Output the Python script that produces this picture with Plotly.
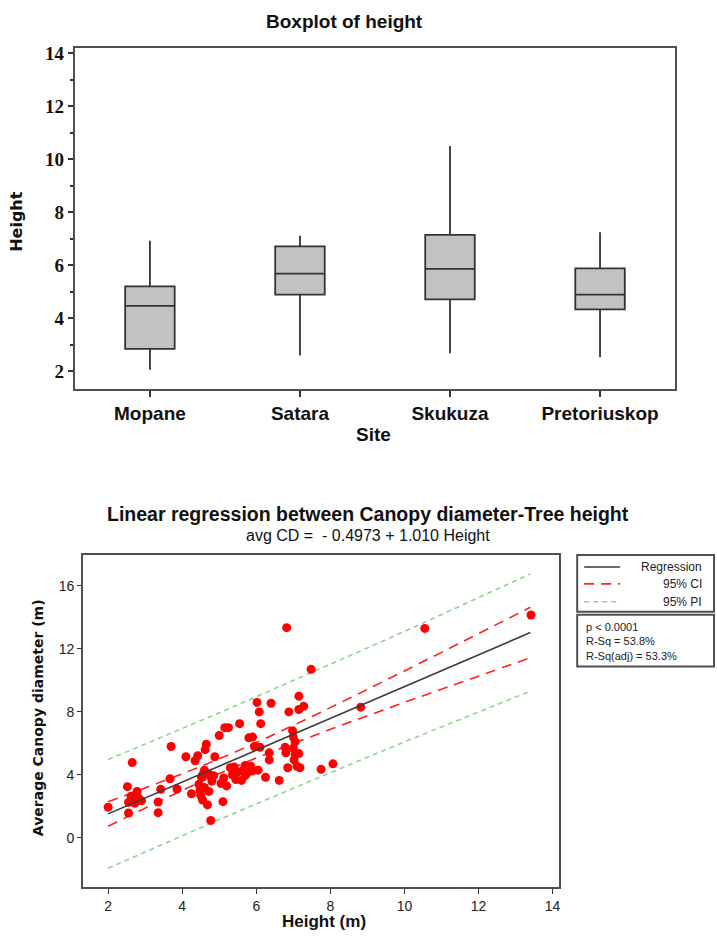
import plotly.graph_objects as go

W, H = 717, 940

# ---------------- Boxplot data ----------------
sites = ["Mopane", "Satara", "Skukuza", "Pretoriuskop"]
box_lower = [2.05, 2.59, 2.68, 2.53]
box_q1 = [2.84, 4.89, 4.71, 4.33]
box_median = [4.46, 5.68, 5.86, 4.89]
box_q3 = [5.20, 6.71, 7.14, 5.88]
box_upper = [6.92, 7.11, 10.49, 7.24]
box_yticks = [2, 4, 6, 8, 10, 12, 14]

# ---------------- Regression data ----------------
height_m = [2.00, 2.52, 2.55, 2.55, 2.65, 2.62, 2.78, 2.82, 2.90, 2.72,
            3.35, 3.35, 3.42, 3.67, 3.70, 3.86,
            4.10, 4.25, 4.35, 4.42, 4.45, 4.48, 4.52, 4.55, 4.60, 4.62,
            4.65, 4.68, 4.72, 4.72, 4.77, 4.55, 4.80, 4.88, 4.85, 4.50, 4.60,
            5.00, 5.05, 5.10, 5.12, 5.15, 5.25, 5.20, 5.30, 5.35, 5.40, 5.45,
            5.50, 5.55, 5.60, 5.65, 5.70, 5.75, 5.80, 5.85, 5.90, 5.95, 5.90, 5.70,
            6.02, 6.08, 6.12, 6.10, 6.05, 6.25, 6.35, 6.35, 6.40, 6.62, 6.78,
            6.82, 6.85, 6.88, 6.80, 6.98, 7.00, 7.05, 7.05, 7.02, 7.10, 7.15,
            7.15, 7.28, 7.15, 7.18, 7.00,
            7.48, 7.75, 8.07, 8.82, 10.55, 13.42]
canopy_m = [1.95, 3.25, 2.25, 1.58, 4.78, 2.65, 2.95, 2.55, 2.35, 2.20,
            1.60, 2.28, 3.08, 3.75, 5.80, 3.10,
            5.15, 2.80, 4.90, 5.22, 3.40, 3.00, 3.85, 2.40, 3.20, 5.60,
            5.95, 2.10, 4.05, 2.95, 1.10, 4.00, 3.60, 5.15, 3.95, 2.70, 4.30,
            6.50, 3.45, 2.30, 3.80, 7.00, 7.00, 3.30, 4.45, 4.00, 4.50, 3.70,
            4.20, 7.25, 3.65, 4.30, 4.60, 4.10, 6.35, 4.55, 6.40, 5.80, 4.25, 3.95,
            8.60, 8.00, 7.25, 5.75, 4.30, 3.85, 5.40, 4.95, 8.55, 3.65, 5.75,
            13.35, 4.45, 8.00, 5.40, 6.80, 6.40, 6.10, 5.30, 4.95, 4.55, 9.00,
            8.15, 8.35, 5.35, 4.45, 5.70,
            10.70, 4.35, 4.70, 8.30, 13.30, 14.15]

fit_x = [2.0, 13.4]
fit_y = [1.523, 13.037]

band_x = [2, 3, 4, 5, 6, 7, 8, 9, 10, 11, 12, 13.4]
ci_upper = [2.30, 3.17, 4.07, 5.02, 6.05, 7.14, 8.27, 9.43, 10.60, 11.78, 12.97, 14.64]
ci_lower = [0.74, 1.89, 3.01, 4.08, 5.07, 6.00, 6.89, 7.75, 8.60, 9.44, 10.27, 11.44]
pi_upper = [4.97, 5.95, 6.94, 7.94, 8.96, 9.98, 11.01, 12.06, 13.11, 14.17, 15.24, 16.76]
pi_lower = [-1.93, -0.89, 0.14, 1.16, 2.16, 3.16, 4.15, 5.12, 6.09, 7.05, 8.00, 9.32]

reg_xticks = [2, 4, 6, 8, 10, 12, 14]
reg_yticks = [0, 4, 8, 12, 16]

legend_labels = ["Regression", "95% CI", "95% PI"]
stats_lines = ["p < 0.0001", "R-Sq = 53.8%", "R-Sq(adj) = 53.3%"]

# ---------------- helpers ----------------
def px(x):
    return x / W

def py(y):
    return 1 - y / H

FRAME = "#505050"
RED = "#ff2020"
GREEN = "#8fd48f"
DARK = "#3a3a3a"

fig = go.Figure()

fig.add_trace(go.Box(
    x=sites, q1=box_q1, median=box_median, q3=box_q3,
    lowerfence=box_lower, upperfence=box_upper,
    fillcolor="#c2c2c2", line=dict(color="#333333", width=1.8),
    whiskerwidth=0, width=0.33, boxpoints=False,
    xaxis="x", yaxis="y", showlegend=False, hoverinfo="skip"))

# Regression panel
fig.add_trace(go.Scatter(x=band_x, y=pi_upper, mode="lines",
                         line=dict(color=GREEN, width=1.6, dash="5px,4px"),
                         xaxis="x2", yaxis="y2", showlegend=False))
fig.add_trace(go.Scatter(x=band_x, y=pi_lower, mode="lines",
                         line=dict(color=GREEN, width=1.6, dash="5px,4px"),
                         xaxis="x2", yaxis="y2", showlegend=False))
fig.add_trace(go.Scatter(x=band_x, y=ci_upper, mode="lines", line_shape="spline",
                         line=dict(color=RED, width=1.6, dash="10px,7px"),
                         xaxis="x2", yaxis="y2", showlegend=False))
fig.add_trace(go.Scatter(x=band_x, y=ci_lower, mode="lines", line_shape="spline",
                         line=dict(color=RED, width=1.6, dash="10px,7px"),
                         xaxis="x2", yaxis="y2", showlegend=False))
fig.add_trace(go.Scatter(x=height_m, y=canopy_m, mode="markers",
                         marker=dict(color="#ff0000", size=9),
                         xaxis="x2", yaxis="y2", showlegend=False))
fig.add_trace(go.Scatter(x=fit_x, y=fit_y, mode="lines",
                         line=dict(color=DARK, width=1.6),
                         xaxis="x2", yaxis="y2", showlegend=False))

axis_common = dict(showline=True, linecolor=FRAME, linewidth=2, mirror=True,
                   showgrid=False, zeroline=False, ticks="outside",
                   tickcolor="#333333")

fig.update_layout(
    width=W, height=H,
    margin=dict(l=0, r=0, t=0, b=0),
    paper_bgcolor="white", plot_bgcolor="white",
    showlegend=False,
    xaxis=dict(domain=[px(75), px(676)], anchor="y", type="category",
               range=[-0.5, 3.5], ticklen=6, tickwidth=1.5,
               tickfont=dict(family="Liberation Sans", size=19, color="#111", weight="bold"),
               **axis_common),
    yaxis=dict(domain=[py(386), py(43)], anchor="x", range=[1.33, 14.2],
               tickvals=box_yticks, ticklen=5, tickwidth=1.5,
               minor=dict(dtick=1, ticklen=3, ticks="outside", tickcolor="#333"),
               tickfont=dict(family="Liberation Serif", size=19, color="#111", weight="bold"),
               **axis_common),
    xaxis2=dict(domain=[px(83.3), px(560)], anchor="y2", range=[1.326, 14.18],
                tickvals=reg_xticks, ticklen=5, tickwidth=1.2,
                tickfont=dict(family="Liberation Sans", size=14, color="#222"),
                **axis_common),
    yaxis2=dict(domain=[py(886.7), py(553.3)], anchor="x2", range=[-3.12, 17.94],
                tickvals=reg_yticks, ticklen=4, tickwidth=1.2,
                tickfont=dict(family="Liberation Sans", size=14, color="#222"),
                **axis_common),
)

ann = []
def text(t, x, y, size, family="Liberation Sans", bold=False, angle=0,
         xanchor="center", color="#111", align="center"):
    ann.append(dict(text=t, x=px(x), y=py(y), xref="paper", yref="paper",
                    showarrow=False, xanchor=xanchor, yanchor="middle",
                    textangle=angle, align=align,
                    font=dict(family=family, size=size, color=color,
                              weight="bold" if bold else "normal")))

text("Boxplot of height", 345, 17, 19, bold=True)
text("Height", 17, 217, 16, family="DejaVu Sans", bold=True, angle=-90)
text("Site", 374, 432, 19, bold=True)

text("Linear regression between Canopy diameter-Tree height", 369, 512, 19.5, bold=True)
text("avg CD =  - 0.4973 + 1.010 Height", 369, 533, 16)
text("Average Canopy diameter (m)", 38, 716, 14, family="DejaVu Sans", bold=True, angle=-90)
text("Height (m)", 324, 921, 17, bold=True)

# Legend box (drawn manually, matching the reference layout)
shapes = []
shapes.append(dict(type="rect", xref="paper", yref="paper",
                   x0=px(578), x1=px(715), y0=py(610), y1=py(553),
                   line=dict(color=FRAME, width=2)))
shapes.append(dict(type="rect", xref="paper", yref="paper",
                   x0=px(578), x1=px(715), y0=py(665), y1=py(613),
                   line=dict(color=FRAME, width=2)))
leg_styles = [dict(color=DARK, width=1.6),
              dict(color=RED, width=1.6, dash="10px,7px"),
              dict(color=GREEN, width=1.6, dash="5px,4px")]
leg_y = [565, 582, 600]
for lab, sty, yy in zip(legend_labels, leg_styles, leg_y):
    shapes.append(dict(type="line", xref="paper", yref="paper",
                       x0=px(585), x1=px(621), y0=py(yy), y1=py(yy), line=sty))
    text(lab, 705, yy, 12, xanchor="right", color="#222")
text("<br>".join(stats_lines), 585, 640, 11, xanchor="left", color="#222", align="left")

fig.update_layout(annotations=ann, shapes=shapes)

fig.write_html(
    "out.html",
    config={"displayModeBar": False},
    post_script="document.body.style.margin='0';document.body.style.overflow='hidden';",
)
